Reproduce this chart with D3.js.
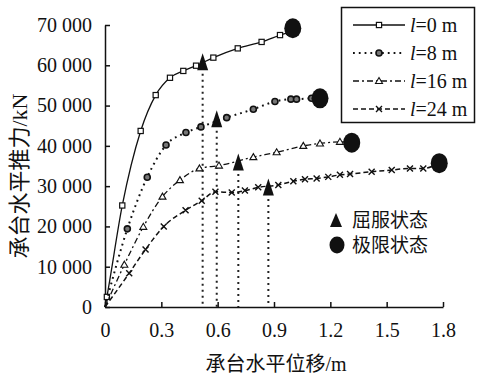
<!DOCTYPE html>
<html>
<head>
<meta charset="utf-8">
<script src="https://cdn.jsdelivr.net/npm/d3@7"></script>
<style>
  body { margin: 0; background: #fff; }
  text { font-family: "Liberation Serif", "Noto Sans CJK SC", serif; fill: #111; }
  .cjk { font-family: "Liberation Serif", "Noto Sans CJK SC", sans-serif; }
</style>
</head>
<body>
<div id="chart"></div>
<script>
// data: displacement (m) vs horizontal thrust (kN)
var seriesNames = ["l=0 m", "l=8 m", "l=16 m", "l=24 m"];

var x0 = [0, 0.01, 0.092, 0.19, 0.27, 0.346, 0.417, 0.485, 0.577, 0.707, 0.834, 0.932, 0.98];
var y0 = [0, 2500, 25200, 43700, 52600, 56900, 58600, 59900, 61900, 64200, 65800, 67500, 68300];

var x8 = [0, 0.119, 0.225, 0.325, 0.431, 0.511, 0.648, 0.79, 0.905, 0.99, 1.02, 1.1];
var y8 = [0, 19400, 32200, 40200, 43300, 44700, 47000, 49100, 51000, 51600, 51600, 51800];

var x16 = [0, 0.103, 0.204, 0.306, 0.399, 0.503, 0.607, 0.79, 0.914, 1.056, 1.145, 1.251];
var y16 = [0, 10500, 19900, 27400, 31500, 34400, 35100, 37200, 38400, 40000, 40600, 41000];

var x24 = [0, 0.129, 0.216, 0.313, 0.429, 0.515, 0.588, 0.675, 0.745, 0.816, 0.923, 1.003,
           1.065, 1.127, 1.189, 1.251, 1.305, 1.42, 1.527, 1.624, 1.695];
var y24 = [0, 8400, 14300, 20000, 24000, 26400, 28600, 28400, 28900, 29700, 30300, 31200,
           31700, 31900, 32300, 32800, 33000, 33600, 34000, 34400, 34400];

// yield (triangle) and ultimate (circle) states, one per series
var yieldX = [0.52, 0.595, 0.71, 0.87];
var yieldY = [60900, 46700, 36000, 29800];
var ultX = [1.0, 1.145, 1.314, 1.78];
var ultY = [69200, 51800, 40800, 35700];

var xTicks = [0, 0.3, 0.6, 0.9, 1.2, 1.5, 1.8];
var yTicks = [0, 10000, 20000, 30000, 40000, 50000, 60000, 70000];
var xTitle = "承台水平位移/m";
var yTitle = "承台水平推力/kN";
var stateNames = ["屈服状态", "极限状态"];

var width = 480, height = 375;
var svg = d3.select("#chart").append("svg")
  .attr("width", width)
  .attr("height", height);

var x = d3.scaleLinear().domain([0, 1.8]).range([105, 443]);
var y = d3.scaleLinear().domain([0, 70000]).range([307, 25]);

var fmt = d3.formatLocale({decimal: ".", thousands: " ", grouping: [3], currency: ["", ""]}).format(",");

// axes, ticks pointing inward
var gx = svg.append("g")
  .attr("transform", "translate(0," + y(0) + ")")
  .call(d3.axisBottom(x).tickValues(xTicks).tickSizeInner(-5).tickSizeOuter(0).tickPadding(16)
    .tickFormat(function(d) { return d === 0 ? "0" : d3.format(".1f")(d); }));
var gy = svg.append("g")
  .attr("transform", "translate(" + x(0) + ",0)")
  .call(d3.axisLeft(y).tickValues(yTicks).tickSizeInner(-5).tickSizeOuter(0).tickPadding(13).tickFormat(fmt));
[gx, gy].forEach(function(g) {
  g.selectAll("path, line").attr("stroke", "#111").attr("stroke-width", 1.5);
  g.selectAll("text").style("font-size", "20px").style("font-family", "Liberation Serif").attr("fill", "#111");
});

svg.append("text")
  .attr("class", "cjk")
  .attr("x", 276).attr("y", 371)
  .attr("text-anchor", "middle")
  .style("font-size", "20px")
  .text(xTitle);
svg.append("text")
  .attr("class", "cjk")
  .attr("transform", "translate(27,176) rotate(-90)")
  .attr("text-anchor", "middle")
  .style("font-size", "22px")
  .text(yTitle);

// dotted drop lines from the yield points
svg.append("g").selectAll("line")
  .data(d3.range(yieldX.length))
  .enter().append("line")
  .attr("x1", function(i) { return x(yieldX[i]); })
  .attr("x2", function(i) { return x(yieldX[i]); })
  .attr("y1", function(i) { return y(yieldY[i]) + 6; })
  .attr("y2", y(0))
  .attr("stroke", "#222")
  .attr("stroke-width", 2)
  .attr("stroke-dasharray", "2,4");

var styles = [
  {dash: null, width: 1.3},
  {dash: "1.8,4", width: 2},
  {dash: "6,3,2,3", width: 1.3},
  {dash: "5,3", width: 1.5}
];
var xs = [x0, x8, x16, x24], ys = [y0, y8, y16, y24];

function marker(g, k, cx, cy) {
  if (k === 0) {
    g.append("rect").attr("x", cx - 2.6).attr("y", cy - 2.6).attr("width", 5.2).attr("height", 5.2)
      .attr("fill", "#fff").attr("stroke", "#111").attr("stroke-width", 1.2);
  } else if (k === 1) {
    g.append("circle").attr("cx", cx).attr("cy", cy).attr("r", 3)
      .attr("fill", "#777").attr("stroke", "#111").attr("stroke-width", 1.6);
  } else if (k === 2) {
    g.append("path").attr("d", "M" + cx + "," + (cy - 3.5) + "L" + (cx + 3.5) + "," + (cy + 2.5) + "L" + (cx - 3.5) + "," + (cy + 2.5) + "Z")
      .attr("fill", "#fff").attr("stroke", "#111").attr("stroke-width", 1.1);
  } else {
    g.append("path").attr("d", "M" + (cx - 3) + "," + (cy - 3) + "L" + (cx + 3) + "," + (cy + 3) + "M" + (cx + 3) + "," + (cy - 3) + "L" + (cx - 3) + "," + (cy + 3))
      .attr("stroke", "#111").attr("stroke-width", 1.4);
  }
}

var line = d3.line()
  .x(function(d) { return x(d[0]); })
  .y(function(d) { return y(d[1]); })
  .curve(d3.curveMonotoneX);

xs.forEach(function(xv, k) {
  var pts = xv.map(function(v, i) { return [v, ys[k][i]]; });
  pts.push([ultX[k], ultY[k]]);
  svg.append("path")
    .datum(pts)
    .attr("fill", "none")
    .attr("stroke", "#111")
    .attr("stroke-width", styles[k].width)
    .attr("stroke-dasharray", styles[k].dash)
    .attr("d", line);
  var g = svg.append("g");
  pts.slice(1, -1).forEach(function(p) { marker(g, k, x(p[0]), y(p[1])); });
});

// yield triangles and ultimate circles
var tri = function(cx, cy, w, h) {
  return "M" + cx + "," + (cy - h / 2) + "L" + (cx + w / 2) + "," + (cy + h / 2) + "L" + (cx - w / 2) + "," + (cy + h / 2) + "Z";
};
svg.append("g").selectAll("path")
  .data(d3.range(yieldX.length))
  .enter().append("path")
  .attr("d", function(i) { return tri(x(yieldX[i]), y(yieldY[i]), 11, 17); })
  .attr("fill", "#111");
svg.append("g").selectAll("ellipse")
  .data(d3.range(ultX.length))
  .enter().append("ellipse")
  .attr("cx", function(i) { return x(ultX[i]); })
  .attr("cy", function(i) { return y(ultY[i]); })
  .attr("rx", 8.5).attr("ry", 10)
  .attr("fill", "#111");

// legend box
var lg = svg.append("g");
lg.append("rect")
  .attr("x", 341.5).attr("y", 7.5).attr("width", 133).attr("height", 115)
  .attr("fill", "#fff").attr("stroke", "#111").attr("stroke-width", 1.5);
seriesNames.forEach(function(name, k) {
  var ly = 25 + k * 28;
  lg.append("line")
    .attr("x1", 353).attr("x2", 405).attr("y1", ly).attr("y2", ly)
    .attr("stroke", "#111").attr("stroke-width", styles[k].width)
    .attr("stroke-dasharray", styles[k].dash);
  marker(lg, k, 379, ly);
  var t = lg.append("text").attr("x", 410).attr("y", ly + 7).style("font-size", "20px");
  t.append("tspan").style("font-style", "italic").text(name.charAt(0));
  t.append("tspan").text(name.slice(1));
});

// state legend
lg.append("path").attr("d", tri(336, 220, 12, 14)).attr("fill", "#111");
lg.append("ellipse").attr("cx", 337).attr("cy", 245).attr("rx", 7.5).attr("ry", 8.5).attr("fill", "#111");
stateNames.forEach(function(name, i) {
  lg.append("text")
    .attr("class", "cjk")
    .attr("x", 352).attr("y", 227 + i * 25)
    .style("font-size", "19px")
    .text(name);
});
</script>
</body>
</html>
